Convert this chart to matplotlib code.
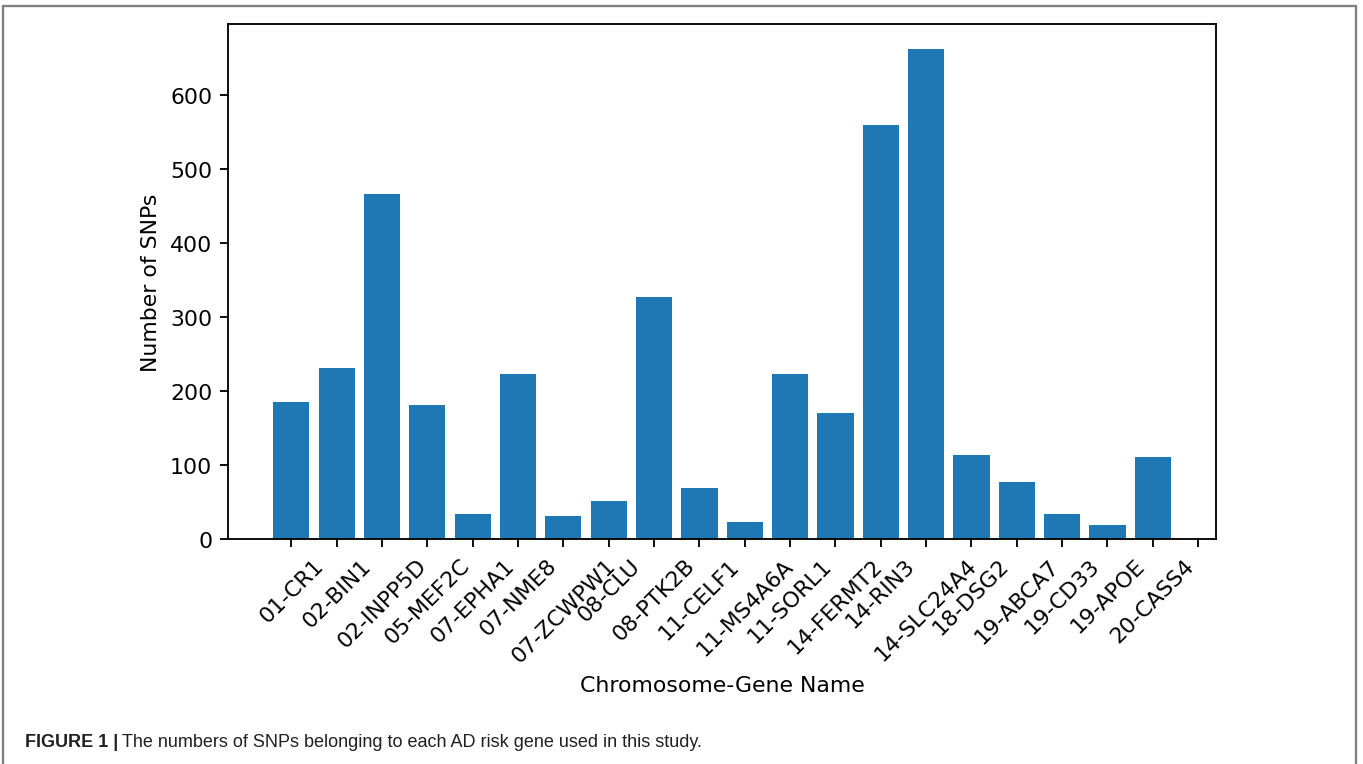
import matplotlib
matplotlib.use("Agg")
import matplotlib.pyplot as plt
from matplotlib.patches import Rectangle
import numpy as np

# SNP counts per AD risk gene
genes = ["01-CR1", "02-BIN1", "02-INPP5D", "05-MEF2C", "07-EPHA1", "07-NME8",
         "07-ZCWPW1", "08-CLU", "08-PTK2B", "11-CELF1", "11-MS4A6A", "11-SORL1",
         "14-FERMT2", "14-RIN3", "14-SLC24A4", "18-DSG2", "19-ABCA7", "19-CD33",
         "19-APOE", "20-CASS4"]
snp_counts = [185, 230, 466, 181, 33, 223, 31, 51, 326, 68, 22, 222,
              170, 559, 662, 113, 77, 33, 19, 111]
n_ticks = 21

plt.rcParams["font.size"] = 9.55

DPI = 166
fig = plt.figure(figsize=(1363 / DPI, 765 / DPI), dpi=DPI)
ax = fig.add_axes([0.1675, 0.2945, 0.7245, 0.6725])

x = np.arange(len(genes))
ax.bar(x, snp_counts)
ax.set_xticks(np.arange(n_ticks))
ax.set_xticklabels(genes + [""], rotation=45)
ax.set_xlabel("Chromosome-Gene Name")
ax.set_ylabel("Number of SNPs")

# journal-style frame around figure and caption
frame = Rectangle((0.0022, -0.2), 0.9927, 1.191, transform=fig.transFigure,
                  fill=False, edgecolor="#808080", linewidth=1.0, clip_on=False)
fig.patches.append(frame)

cap_font = ["Liberation Sans Narrow", "Liberation Sans", "DejaVu Sans"]
cap_y = 1 - 747 / 765
t1 = fig.text(25 / 1363, cap_y, "FIGURE 1 |", family=cap_font,
              fontweight="bold", fontsize=7.8, color="#231f20")
fig.canvas.draw()
bb = t1.get_window_extent()
x2 = (bb.x1 + 4) / fig.bbox.width
fig.text(x2, cap_y,
         "The numbers of SNPs belonging to each AD risk gene used in this study.",
         family=cap_font, fontsize=7.8, color="#231f20")

fig.savefig("out.png", dpi=DPI)
